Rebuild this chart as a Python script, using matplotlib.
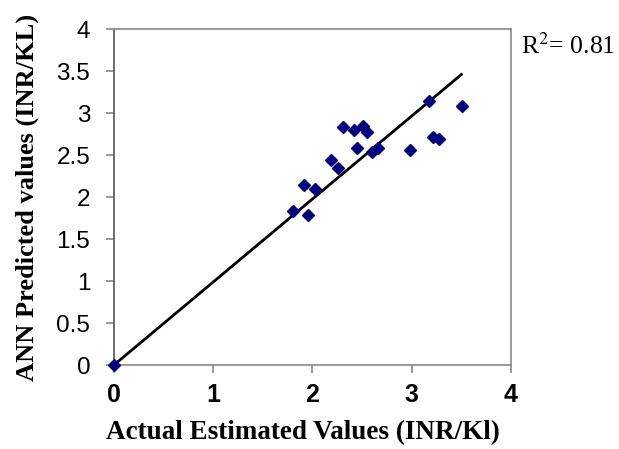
import matplotlib
matplotlib.use('Agg')
import matplotlib.pyplot as plt

# Data
actual = [0.0, 1.80, 1.96, 1.91, 2.03, 2.19, 2.26, 2.31, 2.42, 2.51, 2.55,
          2.45, 2.60, 2.66, 2.98, 3.17, 3.21, 3.27, 3.51]
predicted = [0.0, 1.84, 1.79, 2.15, 2.10, 2.44, 2.35, 2.84, 2.80, 2.85, 2.78,
             2.58, 2.54, 2.59, 2.56, 3.15, 2.72, 2.69, 3.08]
trend_x = [0.0, 3.50]
trend_y = [0.0, 3.46]
x_ticks = [0, 1, 2, 3, 4]
y_ticks = [0, 0.5, 1, 1.5, 2, 2.5, 3, 3.5, 4]
r2_text = 'R$^2$= 0.81'

fig = plt.figure(figsize=(6.19, 4.49), dpi=100)
ax = fig.add_axes([0.184, 0.187, 0.6415, 0.748])

ax.plot(trend_x, trend_y, color='black', lw=2, zorder=2)
ax.plot(actual, predicted, 'D', color='#00007f', markersize=6,
        linestyle='none', zorder=3, clip_on=False)

ax.set_xlim(0, 4)
ax.set_ylim(0, 4)
ax.set_xticks(x_ticks)
ax.set_yticks(y_ticks)
ax.set_xticklabels([str(t) for t in x_ticks], fontfamily='Liberation Sans',
                   fontweight='bold', fontsize=18)
ax.set_yticklabels(['%g' % t for t in y_ticks], fontfamily='Liberation Sans',
                   fontsize=17.5)

for s in ax.spines.values():
    s.set_color('#888888')
    s.set_linewidth(1.2)
ax.spines['left'].set_color('#555555')
ax.tick_params(direction='out', length=6, color='#888888', width=1.2)
ax.tick_params(axis='x', pad=7)
ax.tick_params(axis='y', pad=11)

ax.set_xlabel('Actual Estimated Values (INR/Kl)', fontfamily='Liberation Serif',
              fontweight='bold', fontsize=19.5, va='center')
ax.set_ylabel('ANN Predicted values (INR/KL)', fontfamily='Liberation Serif',
              fontweight='bold', fontsize=19, va='center')
ax.xaxis.set_label_coords(0.477, -0.2)
ax.yaxis.set_label_coords(-0.217, 0.5)

fig.text(0.842, 0.898, r2_text, fontfamily='Liberation Serif', fontsize=18.5,
         va='center', ha='left', math_fontfamily='stix')

fig.savefig('out.png', dpi=100)
